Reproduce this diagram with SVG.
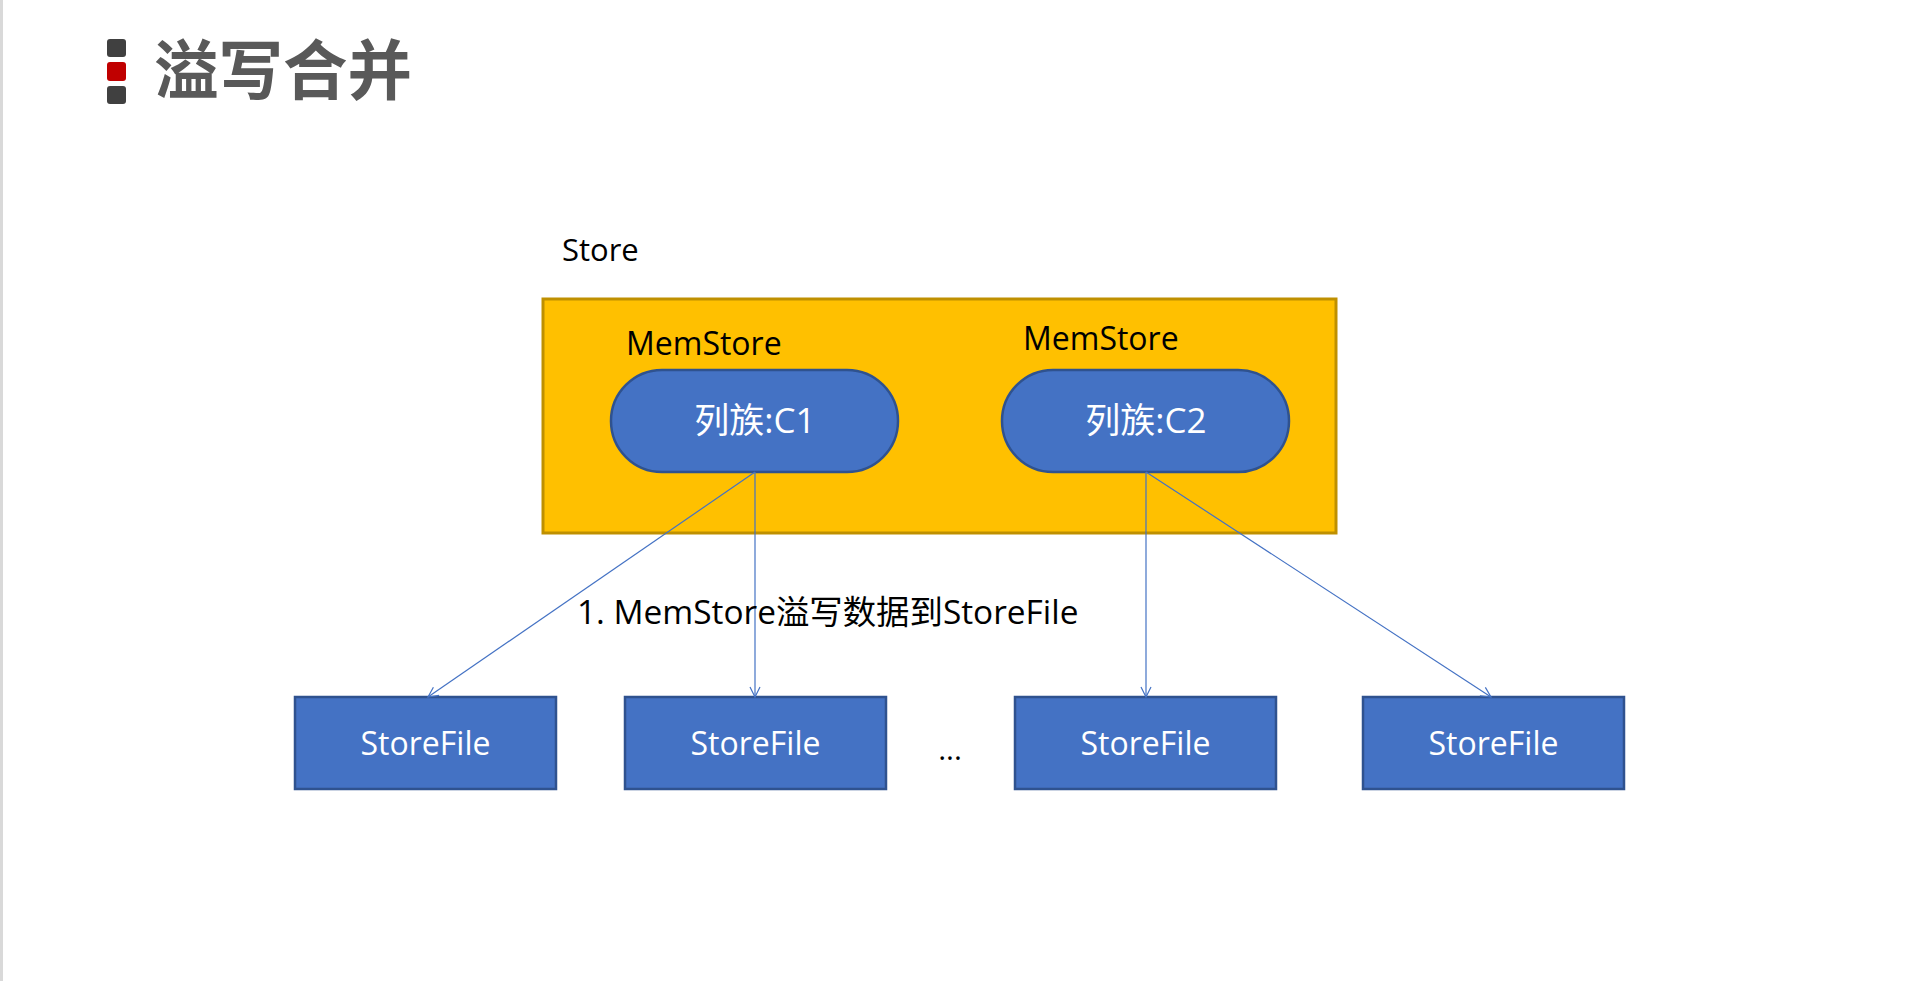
<svg xmlns="http://www.w3.org/2000/svg" width="1916" height="981" viewBox="0 0 1916 981">
<defs>
<style>
.lat{font-family:"Open Sans","Noto Sans CJK SC",sans-serif;}
.blk{fill:#000;}
.wht{fill:#fff;}
.blue{fill:#4472c4;stroke:#2f528f;stroke-width:2.5;}
.conn{stroke:#4472c4;stroke-width:1.2;fill:none;marker-end:url(#arr);}
</style>
<marker id="arr" viewBox="0 0 12 12" refX="11" refY="6" markerWidth="12" markerHeight="12" markerUnits="userSpaceOnUse" orient="auto">
<path d="M1,1 L11,6 L1,11" fill="none" stroke="#4472c4" stroke-width="1.2"/>
</marker>
</defs>
<rect x="0" y="0" width="1916" height="981" fill="#fff"/>
<rect x="0" y="0" width="3" height="981" fill="#d9d9d9"/>
<g id="title">
<rect x="107" y="39" width="19" height="18" rx="3" fill="#404040"/>
<rect x="107" y="62" width="19" height="19" rx="3" fill="#c00000"/>
<rect x="107" y="86" width="19" height="18" rx="3" fill="#404040"/>
<text x="154" y="94" font-family="'Noto Sans CJK SC',sans-serif" font-weight="bold" font-size="64.5" fill="#595959">溢写合并</text>
</g>
<g id="store">
<text x="562" y="261" class="lat blk" font-size="31">Store</text>
<rect x="543" y="299" width="793" height="234" fill="#ffc000" stroke="#bf9000" stroke-width="3"/>
</g>
<g id="memstore1">
<text x="626" y="355" class="lat blk" font-size="32">MemStore</text>
<rect x="611" y="370" width="287" height="102" rx="51" ry="51" class="blue"/>
<text x="755" y="433" class="lat wht" font-size="35" text-anchor="middle">列族:C1</text>
</g>
<g id="memstore2">
<text x="1023" y="350" class="lat blk" font-size="32">MemStore</text>
<rect x="1002" y="370" width="287" height="102" rx="51" ry="51" class="blue"/>
<text x="1146" y="433" class="lat wht" font-size="35" text-anchor="middle">列族:C2</text>
</g>
<g id="storefile1">
<rect x="295" y="697" width="261" height="92" class="blue"/>
<text x="425.5" y="755" class="lat wht" font-size="32" text-anchor="middle">StoreFile</text>
</g>
<g id="storefile2">
<rect x="625" y="697" width="261" height="92" class="blue"/>
<text x="755.5" y="755" class="lat wht" font-size="32" text-anchor="middle">StoreFile</text>
</g>
<g id="storefile3">
<rect x="1015" y="697" width="261" height="92" class="blue"/>
<text x="1145.5" y="755" class="lat wht" font-size="32" text-anchor="middle">StoreFile</text>
</g>
<g id="storefile4">
<rect x="1363" y="697" width="261" height="92" class="blue"/>
<text x="1493.5" y="755" class="lat wht" font-size="32" text-anchor="middle">StoreFile</text>
</g>
<g id="ellipsis">
<text x="950" y="760" class="lat blk" font-size="30" text-anchor="middle">...</text>
</g>
<g id="connectors">
<line x1="755" y1="472" x2="428" y2="697" class="conn"/>
<line x1="755" y1="472" x2="755" y2="697" class="conn"/>
<line x1="1146" y1="472" x2="1146" y2="697" class="conn"/>
<line x1="1146" y1="472" x2="1491" y2="697" class="conn"/>
</g>
<g id="label">
<text x="577" y="624" class="lat blk" font-size="33.4">1. MemStore溢写数据到StoreFile</text>
</g>
</svg>
